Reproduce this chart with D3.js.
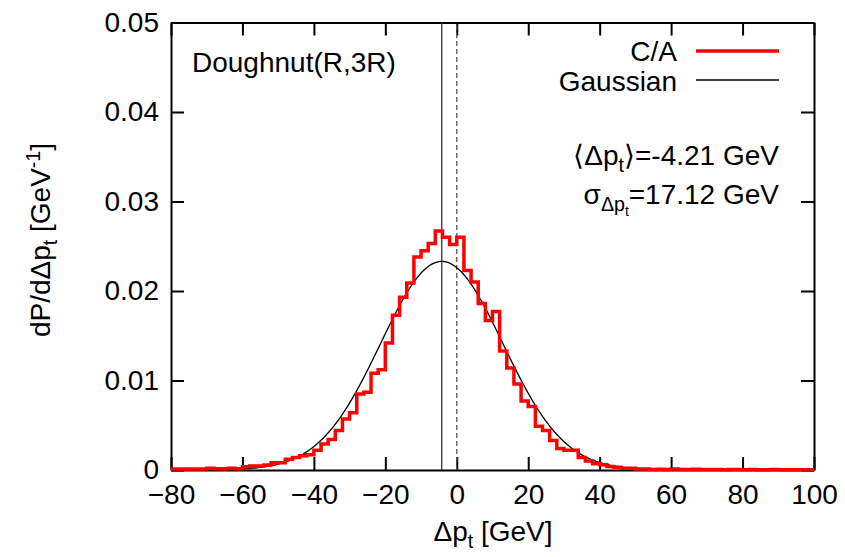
<!DOCTYPE html>
<html>
<head>
<meta charset="utf-8">
<script src="https://cdn.jsdelivr.net/npm/d3@7/dist/d3.min.js"></script>
<style>
  html, body { margin: 0; padding: 0; background: #fff; }
  svg { display: block; }
  text { font-family: "Liberation Sans", Arial, Helvetica, sans-serif; fill: #000; }
</style>
</head>
<body>
<svg id="chart" width="845" height="557"></svg>
<script>
// Bin lower edges (GeV), 2 GeV wide bins from -80 to 100
const binLow = [
  -80, -78, -76, -74, -72, -70, -68, -66, -64, -62,
  -60, -58, -56, -54, -52, -50, -48, -46, -44, -42,
  -40, -38, -36, -34, -32, -30, -28, -26, -24, -22,
  -20, -18, -16, -14, -12, -10,  -8,  -6,  -4,  -2,
    0,   2,   4,   6,   8,  10,  12,  14,  16,  18,
   20,  22,  24,  26,  28,  30,  32,  34,  36,  38,
   40,  42,  44,  46,  48,  50,  52,  54,  56,  58,
   60,  62,  64,  66,  68,  70,  72,  74,  76,  78,
   80,  82,  84,  86,  88,  90,  92,  94,  96,  98
];
const binWidth = 2;

// C/A distribution, dP/dΔp_t per bin
const caValues = [
  0.0001, 0.0001, 0.0001, 0.0001, 0.0001, 0.0002, 0.00015, 0.00015, 0.0002, 0.00015,
  0.00035, 0.00045, 0.00045, 0.00055, 0.0008, 0.0008, 0.0012, 0.0014, 0.0016, 0.0017,
  0.0022, 0.0029, 0.0034, 0.0044, 0.0057, 0.0064, 0.0085, 0.0087, 0.0108, 0.0112,
  0.0142, 0.0173, 0.0193, 0.0209, 0.0238, 0.0245, 0.0253, 0.0267, 0.0260, 0.0252,
  0.0260, 0.0223, 0.0210, 0.0186, 0.0167, 0.0177, 0.0133, 0.0114, 0.0096, 0.0077,
  0.0071, 0.0049, 0.0044, 0.0033, 0.0024, 0.0022, 0.0022, 0.0014, 0.0010, 0.0007,
  0.0006, 0.0004, 0.0003, 0.0002, 0.0002, 0.0001, 0.0001, 0.00005, 0.00008, 0.00005,
  0.0001, 0.00005, 0.00005, 0.00008, 0.00005, 0.00005, 0.00005, 0.00003, 0.00005, 0.00005,
  0.00003, 0.00005, 0.00003, 0.00003, 0.00005, 0.00003, 0.00003, 0.00003, 0.00003, 0.00003
];

// Gaussian fit parameters (GeV)
const meanDpt = -4.21;
const sigmaDpt = 17.12;

// Axis ticks
const xTicks = [-80, -60, -40, -20, 0, 20, 40, 60, 80, 100];
const yTicks = [0, 0.01, 0.02, 0.03, 0.04, 0.05];

const svg = d3.select("#chart");
const plotLeft = 171, plotRight = 814, plotTop = 22.5, plotBottom = 470;
const fontSize = 28;

const x = d3.scaleLinear().domain([-80, 100]).range([plotLeft, plotRight]);
const y = d3.scaleLinear().domain([0, 0.05]).range([plotBottom, plotTop]);

// Frame and ticks (inward, mirrored on top/right)
const axisStyle = g => {
  g.selectAll("path.domain").attr("stroke", "#000").attr("stroke-width", 2);
  g.selectAll(".tick line").attr("stroke", "#000").attr("stroke-width", 2);
  g.selectAll("text").attr("font-size", fontSize).attr("font-family", null).attr("fill", "#000");
};

svg.append("g")
  .attr("transform", `translate(0,${plotBottom})`)
  .call(d3.axisBottom(x).tickValues(xTicks).tickSize(-13).tickPadding(14).tickSizeOuter(0)
    .tickFormat(d3.format("d")))
  .call(axisStyle);

svg.append("g")
  .attr("transform", `translate(0,${plotTop})`)
  .call(d3.axisTop(x).tickValues(xTicks).tickSize(-13).tickSizeOuter(0).tickFormat(""))
  .call(axisStyle);

svg.append("g")
  .attr("transform", `translate(${plotLeft},0)`)
  .call(d3.axisLeft(y).tickValues(yTicks).tickSize(-13).tickPadding(12).tickSizeOuter(0)
    .tickFormat(d => d === 0 ? "0" : d3.format(".2f")(d)))
  .call(axisStyle);

svg.append("g")
  .attr("transform", `translate(${plotRight},0)`)
  .call(d3.axisRight(y).tickValues(yTicks).tickSize(-13).tickSizeOuter(0).tickFormat(""))
  .call(axisStyle);

// Reference lines: mean (solid) and zero (dashed)
svg.append("line")
  .attr("x1", x(meanDpt)).attr("x2", x(meanDpt))
  .attr("y1", y(0)).attr("y2", y(0.05))
  .attr("stroke", "#333").attr("stroke-width", 1.3);

svg.append("line")
  .attr("x1", x(0)).attr("x2", x(0))
  .attr("y1", y(0)).attr("y2", y(0.05))
  .attr("stroke", "#555").attr("stroke-width", 1.3)
  .attr("stroke-dasharray", "5,3");

// Gaussian curve from the stated mean and width
const gauss = v => Math.exp(-0.5 * ((v - meanDpt) / sigmaDpt) ** 2) / (sigmaDpt * Math.sqrt(2 * Math.PI));
const gx = d3.range(-80, 100.01, 0.5);
svg.append("path")
  .datum(gx)
  .attr("fill", "none")
  .attr("stroke", "#000")
  .attr("stroke-width", 1.3)
  .attr("d", d3.line().x(v => x(v)).y(v => y(gauss(v))));

// C/A histogram as a step line
const steps = binLow.map((lo, i) => [lo, caValues[i]]);
steps.push([binLow[binLow.length - 1] + binWidth, caValues[caValues.length - 1]]);
svg.append("path")
  .datum(steps)
  .attr("fill", "none")
  .attr("stroke", "#ff0000")
  .attr("stroke-width", 3.5)
  .attr("stroke-linejoin", "miter")
  .attr("d", d3.line().x(d => x(d[0])).y(d => y(d[1])).curve(d3.curveStepAfter));

// Legend
const legend = [
  { label: "C/A", color: "#ff0000", width: 3.5, yText: 61, yLine: 51 },
  { label: "Gaussian", color: "#000", width: 1.3, yText: 91, yLine: 80 }
];
legend.forEach(l => {
  svg.append("text").attr("x", 677).attr("y", l.yText)
    .attr("text-anchor", "end").attr("font-size", fontSize).text(l.label);
  svg.append("line").attr("x1", 696).attr("x2", 779).attr("y1", l.yLine).attr("y2", l.yLine)
    .attr("stroke", l.color).attr("stroke-width", l.width);
});

// Region label
svg.append("text").attr("x", 192).attr("y", 72).attr("font-size", fontSize).text("Doughnut(R,3R)");

// Statistics
const m = svg.append("text").attr("x", 779).attr("y", 165).attr("text-anchor", "end").attr("font-size", fontSize);
m.append("tspan").text("\u27E8\u0394p");
m.append("tspan").attr("font-size", fontSize * 0.7).attr("dy", 7).text("t");
m.append("tspan").attr("dy", -7).text("\u27E9=-4.21 GeV");

const s = svg.append("text").attr("x", 779).attr("y", 204).attr("text-anchor", "end").attr("font-size", fontSize);
s.append("tspan").text("\u03C3");
s.append("tspan").attr("font-size", fontSize * 0.7).attr("dy", 7).text("\u0394p");
s.append("tspan").attr("font-size", fontSize * 0.5).attr("dy", 5).text("t");
s.append("tspan").attr("dy", -12).text("=17.12 GeV");

// Axis titles
const xt = svg.append("text").attr("x", 493).attr("y", 541).attr("text-anchor", "middle").attr("font-size", fontSize);
xt.append("tspan").text("\u0394p");
xt.append("tspan").attr("font-size", fontSize * 0.7).attr("dy", 7).text("t");
xt.append("tspan").attr("dy", -7).text(" [GeV]");

const yt = svg.append("text").attr("transform", "translate(50,240) rotate(-90)")
  .attr("text-anchor", "middle").attr("font-size", fontSize);
yt.append("tspan").text("dP/d\u0394p");
yt.append("tspan").attr("font-size", fontSize * 0.7).attr("dy", 7).text("t");
yt.append("tspan").attr("dy", -7).text(" [GeV");
yt.append("tspan").attr("font-size", fontSize * 0.7).attr("dy", -10).text("-1");
yt.append("tspan").attr("dy", 10).text("]");
</script>
</body>
</html>
